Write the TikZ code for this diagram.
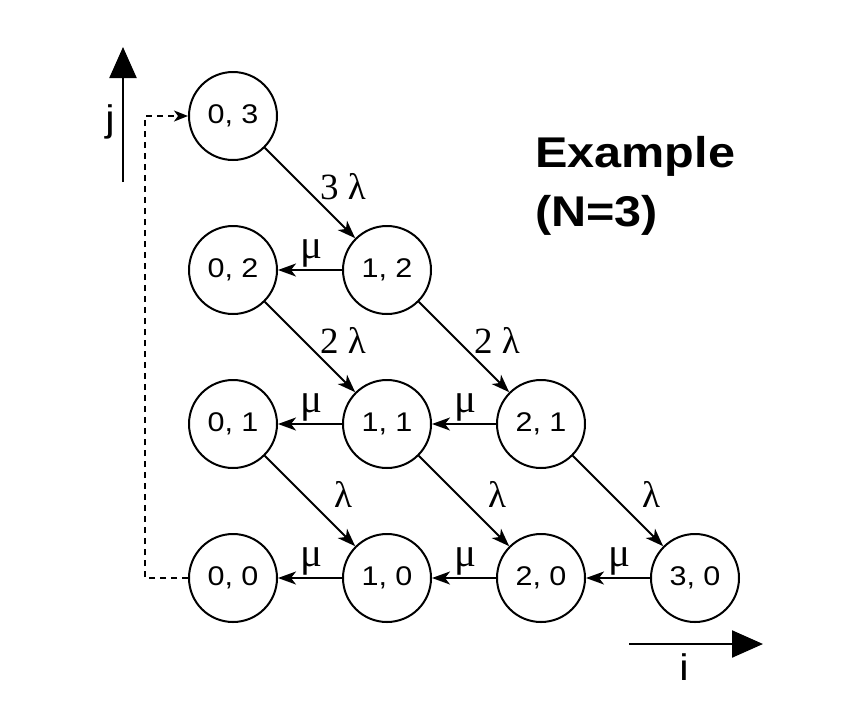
\documentclass[tikz,border=0pt]{standalone}
\usepackage{fontspec}
\setmainfont{Liberation Serif}
\setsansfont{Liberation Sans}[FakeStretch=1.13]
\usetikzlibrary{arrows.meta}
\begin{document}
\begin{tikzpicture}[x=1pt,y=-1pt,
  state/.style={circle,draw,line width=2pt,minimum size=88pt,inner sep=0pt,
    font=\sffamily\fontsize{27}{30}\selectfont},
  arr/.style={line width=2pt,-{Stealth[length=18pt,width=13pt,inset=5pt]}},
  lab/.style={font=\fontsize{37}{40}\selectfont,inner sep=0pt,anchor=base},
  lamlab/.style={lab,pos=0.5,xshift=33pt,yshift=-6pt},
  mulab/.style={lab,font=\fontsize{41}{44}\selectfont,pos=0.5,xshift=1pt,yshift=12pt},
  axisarrow/.style={line width=2.2pt,-{Triangle[length=31pt,width=27pt]}},
  axislab/.style={font=\sffamily\fontsize{37}{40}\selectfont,inner sep=0pt},
  dashline/.style={line width=1.7pt,dash pattern=on 6pt off 5pt,
    -{Stealth[length=14pt,width=11pt,inset=4pt]}},
  extext/.style={font=\sffamily\bfseries\fontsize{43}{50}\selectfont,inner sep=0pt,anchor=base west}]
\useasboundingbox (0,0) rectangle (851,705);
% states
\node[state] (n03) at (233,116) {0, 3};
\node[state] (n02) at (233,270) {0, 2};
\node[state] (n12) at (387,270) {1, 2};
\node[state] (n01) at (233,424) {0, 1};
\node[state] (n11) at (387,424) {1, 1};
\node[state] (n21) at (541,424) {2, 1};
\node[state] (n00) at (233,578) {0, 0};
\node[state] (n10) at (387,578) {1, 0};
\node[state] (n20) at (541,578) {2, 0};
\node[state] (n30) at (695,578) {3, 0};
% arrival transitions
\draw[arr] (n03) -- node[lamlab] {3 λ} (n12);
\draw[arr] (n02) -- node[lamlab] {2 λ} (n11);
\draw[arr] (n12) -- node[lamlab] {2 λ} (n21);
\draw[arr] (n01) -- node[lamlab] {λ} (n10);
\draw[arr] (n11) -- node[lamlab] {λ} (n20);
\draw[arr] (n21) -- node[lamlab] {λ} (n30);
% service transitions
\draw[arr] (n12) -- node[mulab] {μ} (n02);
\draw[arr] (n11) -- node[mulab] {μ} (n01);
\draw[arr] (n21) -- node[mulab] {μ} (n11);
\draw[arr] (n10) -- node[mulab] {μ} (n00);
\draw[arr] (n20) -- node[mulab] {μ} (n10);
\draw[arr] (n30) -- node[mulab] {μ} (n20);
% reset (dashed)
\coordinate (dc) at (145,578);
\draw[dashline] (n00) -- (dc) |- (n03);
% axes
\coordinate (jbot) at (123,182);
\coordinate (jtop) at (123,47);
\draw[axisarrow] (jbot) -- (jtop);
\node[axislab] (jlab) at (110,122) {j};
\coordinate (ileft) at (629,644);
\coordinate (iright) at (763,644);
\draw[axisarrow] (ileft) -- (iright);
\node[axislab] (ilab) at (684,667) {i};
% title
\node[extext] (ex1) at (535,167) {Example};
\node[extext] (ex2) at (535,226) {(N=3)};
\end{tikzpicture}
\end{document}
